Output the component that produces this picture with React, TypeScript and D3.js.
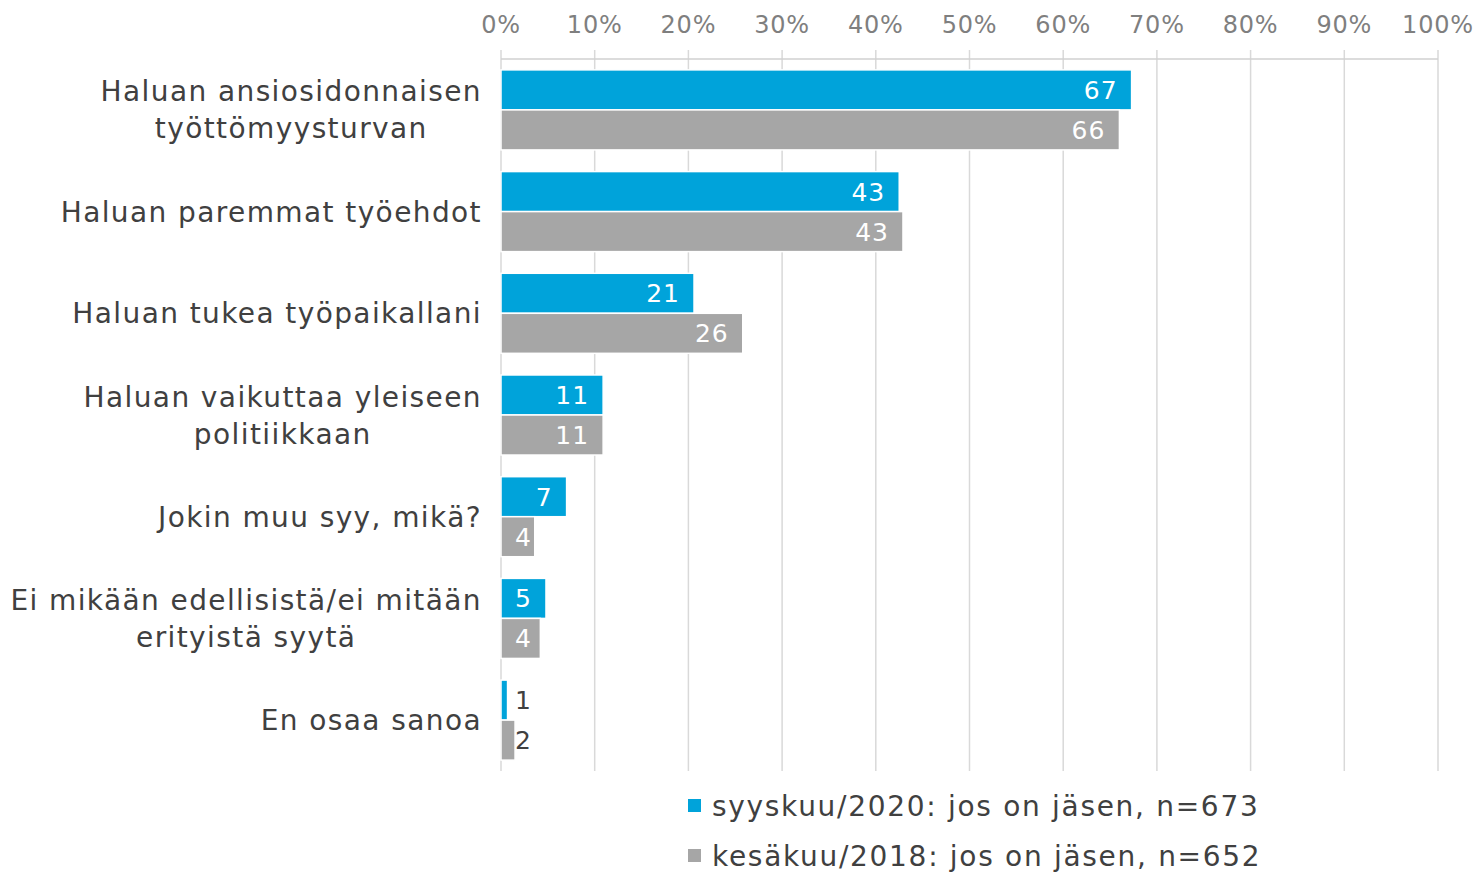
import React from "react";
import * as d3 from "d3";

// Survey: reasons for union membership, two waves
const categories = [
  ["Haluan ansiosidonnaisen", "työttömyysturvan"],
  ["Haluan paremmat työehdot"],
  ["Haluan tukea työpaikallani"],
  ["Haluan vaikuttaa yleiseen", "politiikkaan"],
  ["Jokin muu syy, mikä?"],
  ["Ei mikään edellisistä/ei mitään", "erityistä syytä"],
  ["En osaa sanoa"],
];
const seriesNames = [
  "syyskuu/2020: jos on jäsen, n=673",
  "kesäkuu/2018: jos on jäsen, n=652",
];
const values2020 = [67.3, 42.5, 20.6, 10.9, 7.0, 4.8, 0.7];
const values2018 = [66.0, 42.9, 25.8, 10.9, 3.6, 4.2, 1.5];
const ticks = [0, 10, 20, 30, 40, 50, 60, 70, 80, 90, 100];

const colors = ["#00A3DA", "#A6A6A6"];
const font = "Verdana, 'DejaVu Sans', sans-serif";
const textColor = "#404040";
const catSpacing = 1.4;

let ctx: CanvasRenderingContext2D | null = null;
function textWidth(s: string, size: number, spacing: number) {
  if (!ctx) ctx = document.createElement("canvas").getContext("2d");
  if (!ctx) return s.length * size * 0.6;
  ctx.font = `${size}px ${font}`;
  return ctx.measureText(s).width + spacing * s.length;
}

export default function App() {
  const width = 1478;
  const height = 872;
  const x0 = 501;
  const x1 = 1438;
  const top = 59;
  const bottom = 771;

  const x = d3.scaleLinear().domain([0, 100]).range([x0, x1]);
  const keys = categories.map((c) => c.join(" "));
  const y = d3.scaleBand().domain(keys).range([top, bottom]).paddingInner(0.213).paddingOuter(0.107);
  const sub = d3.scaleBand().domain(["0", "1"]).range([0, y.bandwidth()]).padding(0);
  const series = [values2020, values2018];

  return (
    <svg width={width} height={height} style={{ position: "absolute", left: 0, top: 0 }}>
      {/* gridlines */}
      {ticks.map((t) => (
        <line key={"g" + t} x1={x(t)} x2={x(t)} y1={top - 9} y2={bottom} stroke="#D9D9D9" strokeWidth={1.5} />
      ))}
      <line x1={x0} x2={x1} y1={top} y2={top} stroke="#D0D0D0" strokeWidth={1.5} />
      {ticks.map((t) => (
        <text key={"t" + t} x={x(t)} y={33} textAnchor="middle" fontFamily={font} fontSize={24} letterSpacing={0.8} fill="#7F7F7F">
          {t}%
        </text>
      ))}

      {/* bars */}
      {series.map((vals, si) =>
        vals.map((v, i) => {
          const by = (y(keys[i]) as number) + (sub(String(si)) as number);
          const bh = sub.bandwidth();
          const w = x(v) - x(0);
          const inside = w > 26;
          const labelX = Math.max(x(v) - 14, x(0) + 31);
          return (
            <g key={si + "-" + i}>
              <rect x={x(0)} y={by} width={w} height={bh} fill={colors[si]} stroke="#fff" strokeWidth={1.5} />
              <text
                x={labelX}
                y={by + bh / 2 + 9}
                textAnchor="end"
                fontFamily={font}
                fontSize={25}
                letterSpacing={1}
                fill={inside ? "#fff" : textColor}
              >
                {Math.round(v)}
              </text>
            </g>
          );
        })
      )}

      {/* category labels: lines centred on each other, block right-aligned */}
      {categories.map((lines, i) => {
        const cy = (y(keys[i]) as number) + y.bandwidth() / 2;
        const lh = 37;
        const maxW = d3.max(lines, (l) => textWidth(l, 28, catSpacing)) as number;
        const cx = 482 - maxW / 2;
        return (
          <g key={"c" + i}>
            {lines.map((l, j) => (
              <text
                key={j}
                x={cx}
                y={cy + (j - (lines.length - 1) / 2) * lh + 10}
                textAnchor="middle"
                fontFamily={font}
                fontSize={28}
                letterSpacing={catSpacing}
                fill={textColor}
              >
                {l}
              </text>
            ))}
          </g>
        );
      })}

      {/* legend */}
      {seriesNames.map((s, i) => (
        <g key={"l" + i} transform={`translate(688, ${806 + i * 50})`}>
          <rect x={0} y={-7} width={13} height={13} fill={colors[i]} />
          <text x={24} y={10} fontFamily={font} fontSize={28} letterSpacing={1.7} fill={textColor}>
            {s}
          </text>
        </g>
      ))}
    </svg>
  );
}
